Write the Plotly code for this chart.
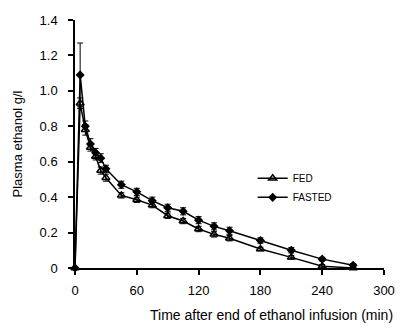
import plotly.graph_objects as go

time_min = [0, 5, 10, 15, 20, 25, 30, 45, 60, 75, 90, 105, 120, 135, 150, 180, 210, 240, 270]
fed = [0, 0.93, 0.78, 0.68, 0.63, 0.55, 0.51, 0.41, 0.385, 0.355, 0.295, 0.265, 0.22, 0.19, 0.168, 0.107, 0.06, 0.01, 0.0]
fed_err = [0, 0.03, 0.03, 0.02, 0.02, 0.02, 0.02, 0.015, 0.015, 0.015, 0.015, 0.015, 0.015, 0.015, 0.015, 0.01, 0.01, 0.01, 0.005]
fasted = [0, 1.09, 0.80, 0.70, 0.65, 0.62, 0.56, 0.47, 0.43, 0.38, 0.34, 0.32, 0.27, 0.235, 0.21, 0.155, 0.10, 0.05, 0.015]
fasted_err = [0, 0.18, 0.03, 0.03, 0.025, 0.025, 0.02, 0.02, 0.02, 0.02, 0.02, 0.02, 0.02, 0.02, 0.02, 0.015, 0.015, 0.01, 0.01]
x_ticks = [0, 60, 120, 180, 240, 300]
y_ticks = [0, 0.2, 0.4, 0.6, 0.8, 1.0, 1.2, 1.4]
y_tick_labels = ["0", "0.2", "0.4", "0.6", "0.8", "1.0", "1.2", "1.4"]

FAM = "Liberation Sans, Arial, sans-serif"

fig = go.Figure()
fig.add_trace(go.Scatter(
    x=time_min, y=fed, name="FED", mode="lines+markers",
    line=dict(color="black", width=1.5),
    marker=dict(symbol="triangle-up-open", size=7, color="black", line=dict(width=1.5)),
    error_y=dict(type="data", array=fed_err, color="black", thickness=1, width=3),
    cliponaxis=False,
))
fig.add_trace(go.Scatter(
    x=time_min, y=fasted, name="FASTED", mode="lines+markers",
    line=dict(color="black", width=1.5),
    marker=dict(symbol="diamond", size=7, color="black"),
    error_y=dict(type="data", array=fasted_err, color="black", thickness=1, width=3),
    cliponaxis=False,
))

fig.update_layout(
    width=407, height=330,
    margin=dict(l=75, r=14, t=20, b=62),
    paper_bgcolor="white", plot_bgcolor="white",
    font=dict(family=FAM, size=13, color="black"),
    showlegend=True,
    legend=dict(x=0.575, y=0.42, xanchor="left", yanchor="top",
                bgcolor="rgba(0,0,0,0)", font=dict(family=FAM, size=10, color="black"),
                itemwidth=30, tracegroupgap=0),
    annotations=[dict(
        text="Time after end of ethanol infusion (min)",
        xref="paper", yref="paper", x=0.637, y=-0.19,
        xanchor="center", yanchor="middle", showarrow=False,
        font=dict(family=FAM, size=14, color="black"),
    )],
)
fig.update_xaxes(
    range=[0, 300], tickvals=x_ticks, showgrid=False, zeroline=False,
    showline=True, linecolor="black", linewidth=1.5,
    ticks="outside", ticklen=5, tickcolor="black", tickwidth=1.5,
    ticklabelstandoff=5, tickfont=dict(family=FAM, size=13, color="black"),
)
fig.update_yaxes(
    range=[0, 1.4], tickvals=y_ticks, ticktext=y_tick_labels, showgrid=False, zeroline=False,
    showline=True, linecolor="black", linewidth=1.5,
    ticks="outside", ticklen=5, tickcolor="black", tickwidth=1.5,
    ticklabelstandoff=8, tickfont=dict(family=FAM, size=13, color="black"),
    title=dict(text="Plasma ethanol g/l", standoff=14, font=dict(family=FAM, size=13, color="black")),
)
fig.write_html("out.html")
